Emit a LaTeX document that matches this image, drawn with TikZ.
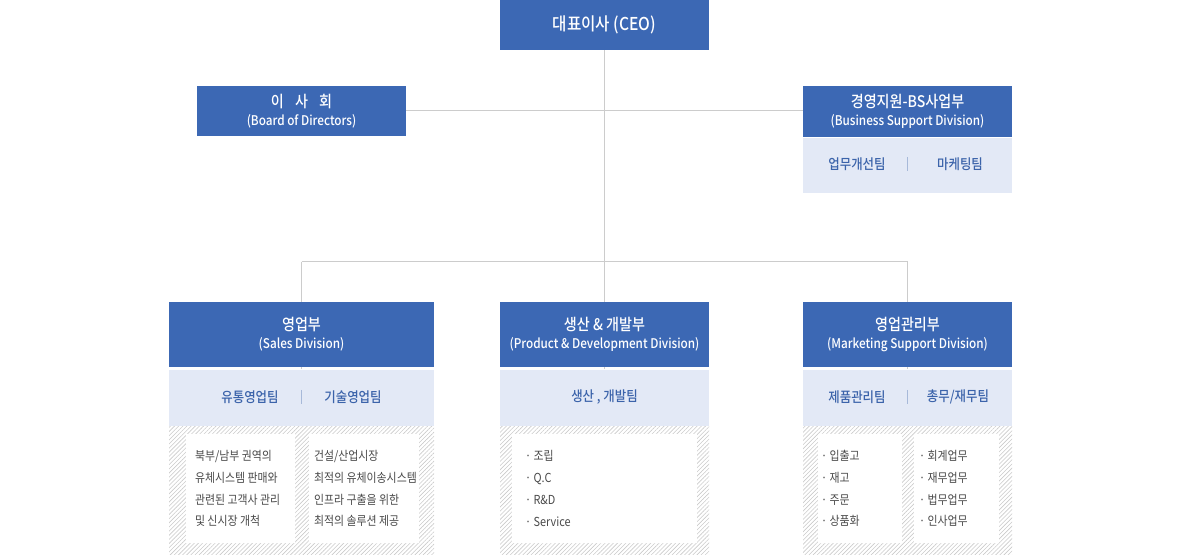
\documentclass[tikz,border=0pt]{standalone}
\usepackage{fontspec}
\setmainfont{Noto Sans CJK KR}[FakeStretch=0.88, BoldFont={* Medium}]
\usetikzlibrary{positioning,patterns.meta}

\definecolor{hqblue}{HTML}{3C68B4}
\definecolor{teambg}{HTML}{E3E9F6}
\definecolor{teamtext}{HTML}{3B63AA}
\definecolor{linegray}{HTML}{CCCCCC}
\definecolor{bodytext}{HTML}{4A4A4A}
\definecolor{hatchgray}{HTML}{CACACA}

\newlength\pxu
\setlength\pxu{0.75pt}
\newcommand\hqfont{\fontsize{10}{13.5}\bfseries}
\newcommand\hqkr{\fontsize{12}{13.5}\selectfont}
\newcommand\teamfont{\fontsize{10.6}{12}\bfseries}
\newcommand\itemsfont{\fontsize{9.3}{16.3}\selectfont}

\tikzset{
	hq/.style={fill=hqblue, text=white, align=center, inner sep=0pt, font=\hqfont},
	teambar/.style={fill=teambg, inner sep=0pt},
	teamname/.style={text=teamtext, font=\teamfont, inner sep=0pt},
	hatchbox/.style={pattern={Lines[angle=45,distance=2.2pt,line width=0.45pt]},
		pattern color=hatchgray, inner sep=0pt},
	listbox/.style={fill=white, inner sep=0pt},
	listtext/.style={text=bodytext, font=\itemsfont, align=left, anchor=west, inner sep=0pt},
	orgline/.style={draw=linegray, line width=0.75pt},
	divider/.style={draw=teamtext!45, line width=0.75pt}
}

\begin{document}
\begin{tikzpicture}[x=0.75pt, y=-0.75pt]
	\useasboundingbox (0,0) rectangle (1180,555);
	
	% top level
	\node[hq, font=\fontsize{13.3}{15}\bfseries, minimum width=209\pxu, minimum height=50\pxu] (ceo) at (604.5,25) {대표이사 (CEO)};
	\node[hq, minimum width=209\pxu, minimum height=50\pxu] (board) at (301.5,111)
		{{\hqkr 이\hspace{0.7em}사\hspace{0.7em}회}\\(Board of Directors)};
	\node[hq, minimum width=209\pxu, minimum height=51\pxu] (bsd) at (907.5,111.5)
		{{\hqkr 경영지원-BS사업부}\\(Business Support Division)};
	\node[teambar, minimum width=209\pxu, minimum height=55\pxu, below=0pt of bsd] (bsdteam) {};
	\node[teamname] (bsdteamA) at (857,164) {업무개선팀};
	\node[teamname] (bsdteamB) at (960,164) {마케팅팀};
	\draw[divider] (907,157) -- (907,171);
	
	% divisions
	\node[hq, minimum width=265\pxu, minimum height=65\pxu] (sales) at (301.5,334.5)
		{{\hqkr 영업부}\\(Sales Division)};
	\node[hq, minimum width=209\pxu, minimum height=65\pxu] (prod) at (604.5,334.5)
		{{\hqkr 생산 \& 개발부}\\(Product \& Development Division)};
	\node[hq, minimum width=209\pxu, minimum height=65\pxu] (mkt) at (907.5,334.5)
		{{\hqkr 영업관리부}\\(Marketing Support Division)};
	
	\node[teambar, minimum width=265\pxu, minimum height=56\pxu, below=2\pxu of sales] (salesteam) {};
	\node[teambar, minimum width=209\pxu, minimum height=56\pxu, below=2\pxu of prod] (prodteam) {};
	\node[teambar, minimum width=209\pxu, minimum height=56\pxu, below=2\pxu of mkt] (mktteam) {};
	
	\node[teamname] (salesteamA) at (250,397) {유통영업팀};
	\node[teamname] (salesteamB) at (353,397) {기술영업팀};
	\draw[divider] (301.5,390) -- (301.5,404);
	\node[teamname] (prodteamA) at (604.5,397) {생산 , 개발팀};
	\node[teamname] (mktteamA) at (857,397) {제품관리팀};
	\node[teamname] (mktteamB) at (958,397) {총무/재무팀};
	\draw[divider] (907.5,390) -- (907.5,404);
	
	\node[hatchbox, minimum width=265\pxu, minimum height=130\pxu, below=0pt of salesteam] (saleshatch) {};
	\node[hatchbox, minimum width=209\pxu, minimum height=130\pxu, below=0pt of prodteam] (prodhatch) {};
	\node[hatchbox, minimum width=209\pxu, minimum height=130\pxu, below=0pt of mktteam] (mkthatch) {};
	
	\node[listbox, minimum width=109\pxu, minimum height=109\pxu] (salesboxA) at (240.5,488.5) {};
	\node[listbox, minimum width=110\pxu, minimum height=109\pxu] (salesboxB) at (364,488.5) {};
	\node[listbox, minimum width=185\pxu, minimum height=109\pxu] (prodbox) at (604.5,488.5) {};
	\node[listbox, minimum width=84\pxu, minimum height=109\pxu] (mktboxA) at (860,488.5) {};
	\node[listbox, minimum width=85\pxu, minimum height=109\pxu] (mktboxB) at (956.5,488.5) {};
	
	\node[listtext] (salesA) at ([xshift=9\pxu]salesboxA.west)
		{북부/남부 권역의\\유체시스템 판매와\\관련된 고객사 관리\\및 신시장 개척};
	\node[listtext] (salesB) at ([xshift=5\pxu]salesboxB.west)
		{건설/산업시장\\최적의 유체이송시스템\\인프라 구출을 위한\\최적의 솔루션 제공};
	\node[listtext] (prodA) at ([xshift=13\pxu]prodbox.west)
		{· 조립\\· Q.C\\· R\&D\\· Service};
	\node[listtext] (mktA) at ([xshift=3\pxu]mktboxA.west)
		{· 입출고\\· 재고\\· 주문\\· 상품화};
	\node[listtext] (mktB) at ([xshift=5\pxu]mktboxB.west)
		{· 회계업무\\· 재무업무\\· 법무업무\\· 인사업무};
	
	% connectors
	\coordinate (split) at (604.5,262);
	\draw[orgline] (ceo.south) -- (split);
	\draw[orgline] (board.east) -- (board.east -| bsd.west);
	\draw[orgline] (sales.north |- split) -- (mkt.north |- split);
	\draw[orgline] (sales.north |- split) -- (sales.north);
	\draw[orgline] (split) -- (prod.north);
	\draw[orgline] (mkt.north |- split) -- (mkt.north);
	\draw[orgline] (sales.south) -- (salesteam.north);
	\draw[orgline] (prod.south) -- (prodteam.north);
	\draw[orgline] (mkt.south) -- (mktteam.north);
	
\end{tikzpicture}
\end{document}
